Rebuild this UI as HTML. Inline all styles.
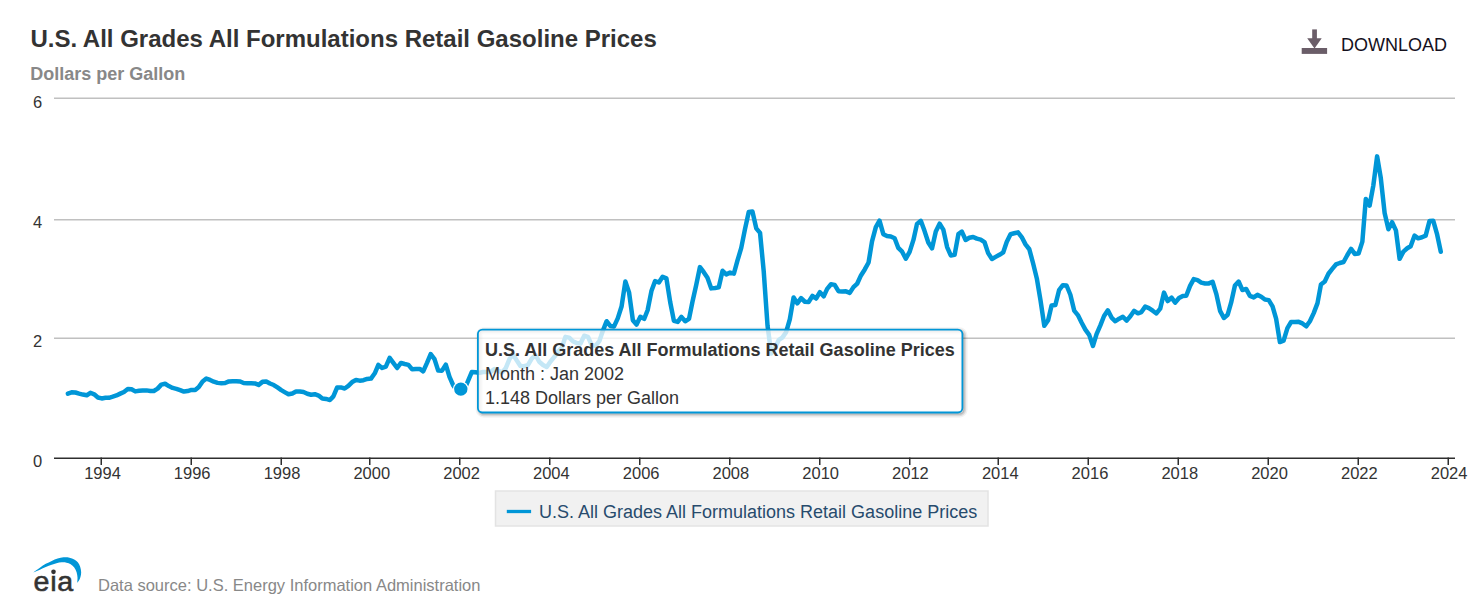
<!DOCTYPE html><html><head><meta charset="utf-8"><title>U.S. All Grades All Formulations Retail Gasoline Prices</title>
<style>html,body{margin:0;padding:0;background:#fff;}body{width:1476px;height:607px;overflow:hidden;font-family:"Liberation Sans",sans-serif;}svg{display:block;}text{font-family:"Liberation Sans",sans-serif;}</style></head><body>
<svg width="1476" height="607" viewBox="0 0 1476 607">
<rect x="0" y="0" width="1476" height="607" fill="#ffffff"/>
<text x="30.4" y="46.8" font-size="24" font-weight="bold" fill="#333333">U.S. All Grades All Formulations Retail Gasoline Prices</text>
<text x="30.2" y="79.8" font-size="18" font-weight="bold" fill="#888888">Dollars per Gallon</text>
<g fill="#6a5d68"><rect x="1312.2" y="29.4" width="4.7" height="10"/><path d="M1307.2 38.3 L1321.7 38.3 L1314.5 48.6 Z"/><rect x="1301.7" y="48" width="25.4" height="5.9"/></g>
<text x="1341.1" y="50.8" font-size="18" fill="#14101c">DOWNLOAD</text>
<rect x="54" y="337.50" width="1401" height="1.5" fill="#c0c0c0"/>
<rect x="54" y="219.00" width="1401" height="1.5" fill="#c0c0c0"/>
<rect x="54" y="97.50" width="1401" height="1.5" fill="#c0c0c0"/>
<text x="42.3" y="466.7" font-size="16.5" text-anchor="end" fill="#333333">0</text>
<text x="42.3" y="346.9" font-size="16.5" text-anchor="end" fill="#333333">2</text>
<text x="42.3" y="227.9" font-size="16.5" text-anchor="end" fill="#333333">4</text>
<text x="42.3" y="108.0" font-size="16.5" text-anchor="end" fill="#333333">6</text>
<path d="M67.90 393.62 L71.59 392.30 L75.40 392.48 L79.09 393.62 L82.90 394.58 L86.71 395.30 L90.39 392.78 L94.20 394.34 L97.89 397.46 L101.70 398.42 L105.51 397.76 L108.95 397.82 L112.76 396.68 L116.45 395.48 L120.26 393.62 L123.94 391.94 L127.75 389.00 L131.56 389.30 L135.25 391.40 L139.06 390.80 L142.75 390.50 L146.56 390.38 L150.37 390.92 L153.81 390.98 L157.62 388.64 L161.30 384.62 L165.11 383.78 L168.80 386.06 L172.61 387.92 L176.42 388.82 L180.11 390.08 L183.92 391.58 L187.60 391.04 L191.41 389.90 L195.22 389.96 L198.79 387.08 L202.60 381.44 L206.29 378.56 L210.09 379.94 L213.78 381.68 L217.59 382.88 L221.40 383.18 L225.09 383.06 L228.90 381.38 L232.58 381.20 L236.39 381.14 L240.20 381.50 L243.65 383.00 L247.46 383.36 L251.14 383.30 L254.95 383.42 L258.64 384.86 L262.45 381.86 L266.26 381.44 L269.95 383.48 L273.76 385.04 L277.44 387.44 L281.25 390.14 L285.06 392.36 L288.50 394.28 L292.31 393.50 L296.00 391.46 L299.81 391.46 L303.50 392.00 L307.31 393.74 L311.12 394.76 L314.80 394.16 L318.61 395.60 L322.30 398.60 L326.11 398.96 L329.92 400.04 L333.36 396.38 L337.17 387.44 L340.86 387.44 L344.67 388.46 L348.35 385.82 L352.16 382.04 L355.97 379.94 L359.66 380.66 L363.47 380.24 L367.16 378.92 L370.97 378.56 L374.78 373.28 L378.34 364.94 L382.15 368.00 L385.84 366.68 L389.65 357.92 L393.33 362.84 L397.14 368.00 L400.95 362.90 L404.64 363.98 L408.45 364.88 L412.14 369.32 L415.95 369.08 L419.76 368.90 L423.20 371.30 L427.01 362.84 L430.69 354.02 L434.50 359.12 L438.19 370.58 L442.00 370.64 L445.81 364.58 L449.50 376.94 L453.31 385.52 L456.99 390.68 L460.80 389.42 L464.61 389.00 L468.05 380.84 L471.86 371.96 L475.55 372.26 L479.36 372.86 L483.05 372.02 L486.86 372.02 L490.67 371.84 L494.35 369.14 L498.16 370.58 L501.85 372.62 L505.66 368.30 L509.47 359.06 L512.91 354.20 L516.72 360.32 L520.41 366.02 L524.22 366.26 L527.91 365.06 L531.72 358.64 L535.53 355.04 L539.21 361.76 L543.02 365.06 L546.71 367.04 L550.52 361.46 L554.33 356.90 L557.89 351.62 L561.70 347.96 L565.39 336.86 L569.20 337.64 L572.89 341.24 L576.70 343.10 L580.51 343.52 L584.19 335.78 L588.00 336.80 L591.69 345.14 L595.50 345.86 L599.31 341.18 L602.75 331.10 L606.56 321.20 L610.25 325.94 L614.06 326.42 L617.74 318.32 L621.55 306.56 L625.36 281.48 L629.05 292.40 L632.86 320.18 L636.55 324.56 L640.36 316.76 L644.17 318.86 L647.61 310.22 L651.42 291.08 L655.10 281.12 L658.91 282.50 L662.60 276.80 L666.41 278.36 L670.22 302.24 L673.91 320.90 L677.72 321.92 L681.40 316.88 L685.21 321.20 L689.02 318.92 L692.46 301.76 L696.27 284.84 L699.96 267.08 L703.77 272.18 L707.46 277.64 L711.27 288.38 L715.08 287.96 L718.76 287.36 L722.57 270.80 L726.26 274.40 L730.07 272.60 L733.88 273.62 L737.44 260.72 L741.25 247.88 L744.94 229.40 L748.75 212.00 L752.44 211.46 L756.25 228.32 L760.06 232.94 L763.74 271.58 L767.55 325.82 L771.24 353.60 L775.05 347.90 L778.86 339.80 L782.30 337.64 L786.11 332.18 L789.80 319.34 L793.61 297.44 L797.30 303.38 L801.10 298.16 L804.91 301.76 L808.60 302.00 L812.41 295.94 L816.10 298.52 L819.91 292.16 L823.72 296.36 L827.16 288.86 L830.97 284.30 L834.66 284.90 L838.47 291.20 L842.15 291.38 L845.96 291.32 L849.77 292.88 L853.46 287.12 L857.27 283.52 L860.96 275.42 L864.77 269.42 L868.58 262.46 L872.02 241.40 L875.83 227.18 L879.51 220.70 L883.32 234.20 L887.01 236.00 L890.82 236.54 L894.63 238.28 L898.32 247.94 L902.13 251.72 L905.81 258.74 L909.62 251.90 L913.43 239.90 L917.00 223.88 L920.81 220.82 L924.49 230.84 L928.30 242.54 L931.99 248.42 L935.80 231.50 L939.61 223.70 L943.30 229.58 L947.11 247.04 L950.79 255.44 L954.60 254.84 L958.41 234.14 L961.85 231.56 L965.66 240.02 L969.35 237.80 L973.16 236.96 L976.85 238.64 L980.66 239.60 L984.47 242.06 L988.15 253.10 L991.96 258.98 L995.65 256.88 L999.46 254.78 L1003.27 252.26 L1006.71 241.94 L1010.52 234.20 L1014.21 233.30 L1018.02 232.34 L1021.70 237.02 L1025.51 244.40 L1029.32 249.26 L1033.01 263.00 L1036.82 278.48 L1040.51 300.38 L1044.32 325.82 L1048.13 320.24 L1051.57 305.54 L1055.38 305.00 L1059.06 290.18 L1062.87 285.20 L1066.56 285.50 L1070.37 294.74 L1074.18 310.58 L1077.87 315.08 L1081.68 322.70 L1085.36 329.66 L1089.17 334.88 L1092.98 345.98 L1096.55 334.04 L1100.36 325.34 L1104.05 316.04 L1107.85 310.28 L1111.54 317.60 L1115.35 321.26 L1119.16 318.68 L1122.85 316.76 L1126.66 320.60 L1130.34 316.34 L1134.15 310.82 L1137.96 313.34 L1141.41 312.08 L1145.22 306.62 L1148.90 308.12 L1152.71 310.70 L1156.40 313.46 L1160.21 308.66 L1164.02 292.64 L1167.71 301.04 L1171.52 297.62 L1175.20 302.66 L1179.01 298.04 L1182.82 296.00 L1186.26 295.76 L1190.07 285.92 L1193.76 279.08 L1197.57 280.10 L1201.26 282.62 L1205.07 283.46 L1208.88 283.40 L1212.56 281.72 L1216.37 294.14 L1220.06 310.88 L1223.87 318.02 L1227.68 314.72 L1231.12 302.66 L1234.93 285.44 L1238.62 281.54 L1242.43 290.06 L1246.11 288.92 L1249.92 295.88 L1253.73 297.44 L1257.42 294.86 L1261.23 296.72 L1264.92 299.60 L1268.73 300.14 L1272.54 306.32 L1276.10 318.56 L1279.91 342.02 L1283.60 340.64 L1287.41 328.10 L1291.09 321.98 L1294.90 321.98 L1298.71 321.86 L1302.40 323.42 L1306.21 326.30 L1309.90 321.26 L1313.71 313.10 L1317.52 303.08 L1320.96 284.42 L1324.77 281.42 L1328.45 273.74 L1332.26 268.88 L1335.95 264.44 L1339.76 263.00 L1343.57 261.98 L1347.26 255.26 L1351.07 248.84 L1354.75 253.94 L1358.56 253.52 L1362.37 241.64 L1365.81 198.98 L1369.62 205.52 L1373.31 185.60 L1377.12 156.38 L1380.81 178.22 L1384.62 213.08 L1388.43 229.28 L1392.11 222.20 L1395.92 230.36 L1399.61 258.86 L1403.42 251.60 L1407.23 248.24 L1410.67 246.20 L1414.48 235.64 L1418.17 238.34 L1421.98 237.26 L1425.67 235.58 L1429.48 221.06 L1433.29 220.82 L1436.97 233.78 L1440.78 251.72" fill="none" stroke="#0096d7" stroke-width="4.5" stroke-linejoin="round" stroke-linecap="round"/>
<rect x="54" y="457.5" width="1401" height="1.5" fill="#2e2e2e"/>
<rect x="100.50" y="457.5" width="1.5" height="7.5" fill="#2e2e2e"/>
<text x="102.50" y="479.0" font-size="16.5" text-anchor="middle" fill="#333333">1994</text>
<rect x="190.50" y="457.5" width="1.5" height="7.5" fill="#2e2e2e"/>
<text x="192.21" y="479.0" font-size="16.5" text-anchor="middle" fill="#333333">1996</text>
<rect x="280.50" y="457.5" width="1.5" height="7.5" fill="#2e2e2e"/>
<text x="282.05" y="479.0" font-size="16.5" text-anchor="middle" fill="#333333">1998</text>
<rect x="369.00" y="457.5" width="1.5" height="7.5" fill="#2e2e2e"/>
<text x="371.77" y="479.0" font-size="16.5" text-anchor="middle" fill="#333333">2000</text>
<rect x="459.00" y="457.5" width="1.5" height="7.5" fill="#2e2e2e"/>
<text x="461.60" y="479.0" font-size="16.5" text-anchor="middle" fill="#333333">2002</text>
<rect x="549.00" y="457.5" width="1.5" height="7.5" fill="#2e2e2e"/>
<text x="551.32" y="479.0" font-size="16.5" text-anchor="middle" fill="#333333">2004</text>
<rect x="639.00" y="457.5" width="1.5" height="7.5" fill="#2e2e2e"/>
<text x="641.16" y="479.0" font-size="16.5" text-anchor="middle" fill="#333333">2006</text>
<rect x="729.00" y="457.5" width="1.5" height="7.5" fill="#2e2e2e"/>
<text x="730.87" y="479.0" font-size="16.5" text-anchor="middle" fill="#333333">2008</text>
<rect x="819.00" y="457.5" width="1.5" height="7.5" fill="#2e2e2e"/>
<text x="820.71" y="479.0" font-size="16.5" text-anchor="middle" fill="#333333">2010</text>
<rect x="909.00" y="457.5" width="1.5" height="7.5" fill="#2e2e2e"/>
<text x="910.42" y="479.0" font-size="16.5" text-anchor="middle" fill="#333333">2012</text>
<rect x="997.50" y="457.5" width="1.5" height="7.5" fill="#2e2e2e"/>
<text x="1000.26" y="479.0" font-size="16.5" text-anchor="middle" fill="#333333">2014</text>
<rect x="1087.50" y="457.5" width="1.5" height="7.5" fill="#2e2e2e"/>
<text x="1089.97" y="479.0" font-size="16.5" text-anchor="middle" fill="#333333">2016</text>
<rect x="1177.50" y="457.5" width="1.5" height="7.5" fill="#2e2e2e"/>
<text x="1179.81" y="479.0" font-size="16.5" text-anchor="middle" fill="#333333">2018</text>
<rect x="1267.50" y="457.5" width="1.5" height="7.5" fill="#2e2e2e"/>
<text x="1269.53" y="479.0" font-size="16.5" text-anchor="middle" fill="#333333">2020</text>
<rect x="1357.50" y="457.5" width="1.5" height="7.5" fill="#2e2e2e"/>
<text x="1359.36" y="479.0" font-size="16.5" text-anchor="middle" fill="#333333">2022</text>
<rect x="1447.50" y="457.5" width="1.5" height="7.5" fill="#2e2e2e"/>
<text x="1449.08" y="479.0" font-size="16.5" text-anchor="middle" fill="#333333">2024</text>
<circle cx="460.80" cy="389.12" r="7.9" fill="#ffffff"/>
<circle cx="460.80" cy="389.12" r="6.7" fill="#0096d7"/>
<rect x="495.5" y="491" width="492.5" height="35" fill="#f1f1f1" stroke="#e3e3e3" stroke-width="1.5"/>
<rect x="506.8" y="509.85" width="24.3" height="3.3" fill="#0096d7"/>
<text x="539" y="518.2" font-size="18" fill="#274b6d">U.S. All Grades All Formulations Retail Gasoline Prices</text>
<rect x="479.40" y="331.10" width="484.50" height="82.90" rx="4.5" fill="none" stroke="#000" stroke-opacity="0.05" stroke-width="7.5"/>
<rect x="479.40" y="331.10" width="484.50" height="82.90" rx="4.5" fill="none" stroke="#000" stroke-opacity="0.10" stroke-width="4.5"/>
<rect x="479.40" y="331.10" width="484.50" height="82.90" rx="4.5" fill="none" stroke="#000" stroke-opacity="0.15" stroke-width="1.5"/>
<rect x="477.90" y="329.60" width="484.50" height="82.90" rx="4.5" fill="#ffffff" fill-opacity="0.77" stroke="#0096d7" stroke-width="1.8"/>
<text x="484.9" y="355.5" font-size="18" font-weight="bold" fill="#333333">U.S. All Grades All Formulations Retail Gasoline Prices</text>
<text x="484.9" y="379.7" font-size="18" fill="#333333">Month : Jan 2002</text>
<text x="484.9" y="403.9" font-size="18" fill="#333333">1.148 Dollars per Gallon</text>
<path d="M33.33 572.45 C34.42 571.66 37.78 569.14 39.86 567.71 C41.94 566.28 43.80 565.00 45.78 563.86 C47.76 562.72 49.73 561.78 51.71 560.89 C53.69 560.00 55.66 559.11 57.64 558.52 C59.62 557.93 61.59 557.48 63.57 557.33 C65.55 557.18 67.71 557.28 69.49 557.63 C71.27 557.98 72.86 558.62 74.24 559.41 C75.62 560.20 76.80 561.13 77.79 562.37 C78.78 563.61 79.60 565.19 80.16 566.82 C80.72 568.45 81.12 570.47 81.17 572.15 C81.22 573.83 80.82 575.52 80.46 576.90 C80.09 578.28 79.52 579.48 78.98 580.45 C78.44 581.42 77.50 582.33 77.20 582.70 L77.20 582.70 C77.25 581.83 77.60 579.25 77.50 577.49 C77.40 575.73 77.14 573.83 76.60 572.15 C76.06 570.47 75.23 568.74 74.24 567.41 C73.25 566.08 71.97 564.94 70.68 564.15 C69.40 563.36 68.01 562.97 66.53 562.67 C65.05 562.37 63.47 562.27 61.79 562.37 C60.11 562.47 58.13 562.87 56.45 563.26 C54.77 563.65 53.49 564.10 51.71 564.74 C49.93 565.38 47.76 566.28 45.78 567.12 C43.80 567.96 41.94 568.89 39.86 569.78 C37.78 570.67 34.42 572.00 33.33 572.45 Z" fill="#0096d7"/>
<text transform="translate(33.5 590.9) scale(1.045 1)" x="0" y="0" font-size="27.4" fill="#333333" stroke="#333333" stroke-width="0.55">eıa</text>
<circle cx="53.5" cy="571.85" r="2.3" fill="#333333"/>
<text x="98" y="590.9" font-size="16.5" fill="#888888">Data source: U.S. Energy Information Administration</text>
</svg></body></html>
